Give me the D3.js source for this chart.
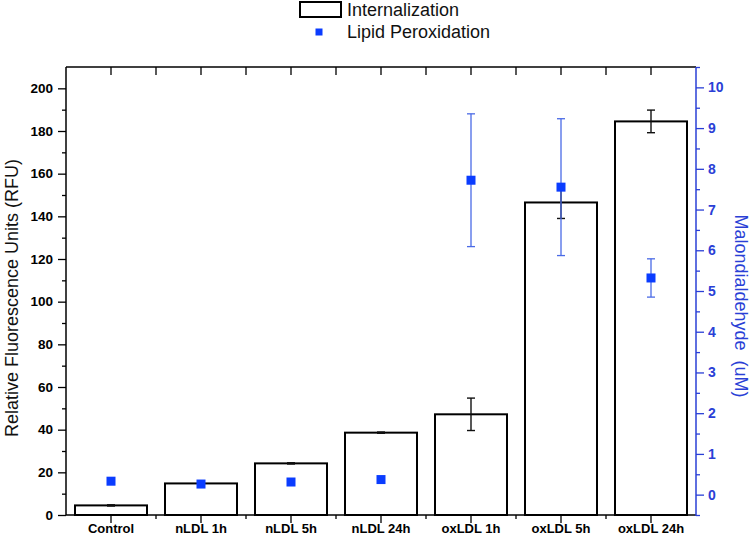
<!DOCTYPE html>
<html><head><meta charset="utf-8">
<script src="https://cdn.jsdelivr.net/npm/d3@7"></script>
<style>body{margin:0;background:#fff}svg{display:block}text{font-family:Arial,"Liberation Sans",sans-serif}</style>
</head><body><svg id="c" width="750" height="539"></svg>
<script>
const categories = ["Control","nLDL 1h","nLDL 5h","nLDL 24h","oxLDL 1h","oxLDL 5h","oxLDL 24h"];
const internalization = [4.5, 14.8, 24.2, 38.6, 47.2, 146.5, 184.5];
const internalizationErr = [0.3, 0.2, 0.3, 0.3, 7.6, 7.5, 5.3];
const lipidPerox = [0.33, 0.26, 0.31, 0.37, 7.72, 7.55, 5.32];
const lipidPeroxErr = [0.0, 0.0, 0.0, 0.0, 1.63, 1.68, 0.47];
const leftTicks = [0,20,40,60,80,100,120,140,160,180,200];
const leftMinor = [10,30,50,70,90,110,130,150,170,190];
const rightTicks = [0,1,2,3,4,5,6,7,8,9,10];
const rightMinor = [-0.5,0.5,1.5,2.5,3.5,4.5,5.5,6.5,7.5,8.5,9.5,10.5];

const svg = d3.select("#c");
const L = 66, R = 696, T = 67, B = 515;
const blue = "#0a3cff", axisBlue = "#2a3fd6", errBlue = "#4a6ae6";

const x = d3.scaleBand().domain(categories).range([L, R]).padding(0);
const yL = d3.scaleLinear().domain([0, 210]).range([B, T]);
const yR = d3.scaleLinear().domain([-0.5, 10.5]).range([B, T]);

// bars
const bw = x.bandwidth() * 0.8;
svg.append("g").selectAll("rect").data(categories).join("rect")
  .attr("x", d => x(d) + (x.bandwidth() - bw) / 2)
  .attr("y", (d,i) => yL(internalization[i]))
  .attr("width", bw)
  .attr("height", (d,i) => B - yL(internalization[i]))
  .attr("fill", "#fff").attr("stroke", "#000").attr("stroke-width", 2);

// bar error bars
const eg = svg.append("g").attr("stroke", "#111").attr("stroke-width", 1.4);
categories.forEach((c,i) => {
  const cx = x(c) + x.bandwidth()/2;
  const y1 = yL(internalization[i] - internalizationErr[i]);
  const y2 = yL(internalization[i] + internalizationErr[i]);
  eg.append("line").attr("x1", cx).attr("x2", cx).attr("y1", y1).attr("y2", y2);
  eg.append("line").attr("x1", cx-4).attr("x2", cx+4).attr("y1", y1).attr("y2", y1);
  eg.append("line").attr("x1", cx-4).attr("x2", cx+4).attr("y1", y2).attr("y2", y2);
});

// lipid error bars
const lg = svg.append("g").attr("stroke", errBlue).attr("stroke-width", 1.3);
categories.forEach((c,i) => {
  if (lipidPeroxErr[i] <= 0) return;
  const cx = x(c) + x.bandwidth()/2;
  const y1 = yR(lipidPerox[i] - lipidPeroxErr[i]);
  const y2 = yR(lipidPerox[i] + lipidPeroxErr[i]);
  lg.append("line").attr("x1", cx).attr("x2", cx).attr("y1", y1).attr("y2", y2);
  lg.append("line").attr("x1", cx-4).attr("x2", cx+4).attr("y1", y1).attr("y2", y1);
  lg.append("line").attr("x1", cx-4).attr("x2", cx+4).attr("y1", y2).attr("y2", y2);
});

// lipid points
const ms = 9;
svg.append("g").selectAll("rect").data(categories).join("rect")
  .attr("x", d => x(d) + x.bandwidth()/2 - ms/2)
  .attr("y", (d,i) => yR(lipidPerox[i]) - ms/2)
  .attr("width", ms).attr("height", ms).attr("fill", blue);

// axes
const tickFont = (g, s) => g.selectAll("text").attr("font-size", s).attr("font-weight", "bold")
  .attr("font-family", 'Arial,"Liberation Sans",sans-serif');

// left
const gl = svg.append("g").attr("transform", `translate(${L},0)`)
  .call(d3.axisLeft(yL).tickValues(leftTicks).tickSize(8).tickPadding(5).tickFormat(d3.format("d")));
tickFont(gl, 13.5);
gl.select(".domain").remove();
gl.selectAll("line").attr("stroke", "#000").attr("stroke-width", 1.3);
const glm = svg.append("g").attr("transform", `translate(${L},0)`)
  .call(d3.axisLeft(yL).tickValues(leftMinor).tickSize(4).tickFormat(""));
glm.select(".domain").remove();
glm.selectAll("line").attr("stroke", "#000").attr("stroke-width", 1.3);

// right
const gr = svg.append("g").attr("transform", `translate(${R},0)`)
  .call(d3.axisRight(yR).tickValues(rightTicks).tickSize(8).tickPadding(4).tickFormat(d3.format("d")));
tickFont(gr, 14);
gr.select(".domain").remove();
gr.selectAll("line").attr("stroke", axisBlue).attr("stroke-width", 1.3);
gr.selectAll("text").attr("fill", axisBlue);
const grm = svg.append("g").attr("transform", `translate(${R},0)`)
  .call(d3.axisRight(yR).tickValues(rightMinor).tickSize(4).tickFormat(""));
grm.select(".domain").remove();
grm.selectAll("line").attr("stroke", axisBlue).attr("stroke-width", 1.3);

// bottom
const gb = svg.append("g").attr("transform", `translate(0,${B})`)
  .call(d3.axisBottom(x).tickSize(8).tickPadding(1));
tickFont(gb, 13);
gb.select(".domain").remove();
gb.selectAll("line").attr("stroke", "#000").attr("stroke-width", 1.3);
const bounds = categories.slice(1).map(c => x(c));
svg.append("g").selectAll("line").data(bounds).join("line")
  .attr("x1", d => d).attr("x2", d => d).attr("y1", B).attr("y2", B + 4)
  .attr("stroke", "#000").attr("stroke-width", 1.3);

// top
const gt = svg.append("g").attr("transform", `translate(0,${T})`)
  .call(d3.axisTop(x).tickSize(-8).tickFormat(""));
gt.select(".domain").remove();
gt.selectAll("line").attr("stroke", "#000").attr("stroke-width", 1.3);
svg.append("g").selectAll("line").data(bounds).join("line")
  .attr("x1", d => d).attr("x2", d => d).attr("y1", T).attr("y2", T + 8)
  .attr("stroke", "#000").attr("stroke-width", 1.3);

// frame lines
svg.append("line").attr("x1", L).attr("x2", R).attr("y1", T).attr("y2", T).attr("stroke", "#000").attr("stroke-width", 1.5);
svg.append("line").attr("x1", L).attr("x2", R).attr("y1", B).attr("y2", B).attr("stroke", "#000").attr("stroke-width", 1.5);
svg.append("line").attr("x1", L).attr("x2", L).attr("y1", T).attr("y2", B).attr("stroke", "#000").attr("stroke-width", 1.5);
svg.append("line").attr("x1", R).attr("x2", R).attr("y1", T).attr("y2", B + 1).attr("stroke", axisBlue).attr("stroke-width", 1.5);

// axis titles
svg.append("text").attr("transform", "translate(18,298) rotate(-90)")
  .attr("text-anchor", "middle").attr("font-size", 18).attr("fill", "#111")
  .text("Relative Fluorescence Units (RFU)");
svg.append("text").attr("transform", "translate(735,306) rotate(90)")
  .attr("text-anchor", "middle").attr("font-size", 18).attr("fill", axisBlue)
  .style("white-space", "pre")
  .text("Malondialdehyde  (uM)");

// legend
svg.append("rect").attr("x", 300).attr("y", 2).attr("width", 41).attr("height", 15)
  .attr("fill", "#fff").attr("stroke", "#000").attr("stroke-width", 2);
svg.append("text").attr("x", 347).attr("y", 15.5).attr("font-size", 18).attr("fill", "#111").text("Internalization");
svg.append("rect").attr("x", 315.5).attr("y", 28.5).attr("width", 7).attr("height", 7).attr("fill", blue);
svg.append("text").attr("x", 347).attr("y", 38).attr("font-size", 18).attr("fill", "#111").text("Lipid Peroxidation");
</script></body></html>
